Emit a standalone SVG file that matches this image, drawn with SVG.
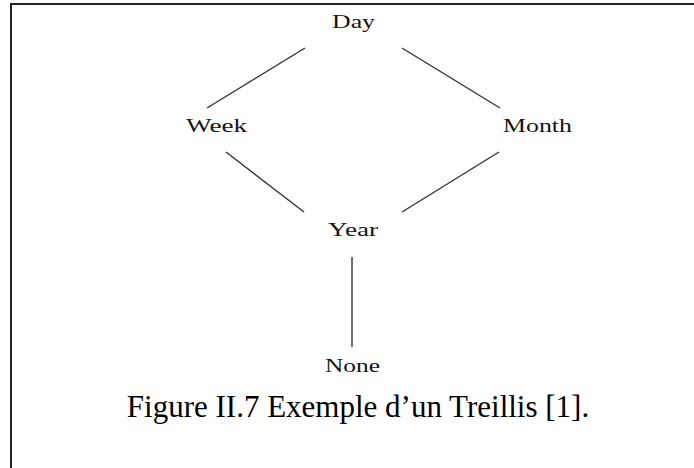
<svg xmlns="http://www.w3.org/2000/svg" width="694" height="468" viewBox="0 0 694 468">
  <style>
    .lbl { font-family: "Liberation Serif", "Times New Roman", serif; font-size: 19px; fill: #141414; text-anchor: middle; }
    .cap { font-family: "Liberation Serif", "Times New Roman", serif; font-size: 31px; fill: #000; text-anchor: middle; }
    .edge { stroke: #333; stroke-width: 1.4; fill: none; }
  </style>
  <rect width="694" height="468" fill="#fff"/>
  <!-- frame: open to the right and bottom -->
  <rect x="11" y="4" width="720" height="500" fill="none" stroke="#222" stroke-width="2"/>

  <g id="connectors">
    <line class="edge" x1="305" y1="48" x2="207" y2="108"/>
    <line class="edge" x1="402" y1="48" x2="500" y2="108"/>
    <line class="edge" x1="226" y1="152" x2="304" y2="212"/>
    <line class="edge" x1="499" y1="152" x2="402" y2="212"/>
    <line class="edge" x1="352" y1="257" x2="352" y2="347"/>
  </g>

  <g id="day"><text class="lbl" x="353.5" y="28" textLength="43" lengthAdjust="spacingAndGlyphs">Day</text></g>
  <g id="week"><text class="lbl" x="216.5" y="132" textLength="61" lengthAdjust="spacingAndGlyphs">Week</text></g>
  <g id="month"><text class="lbl" x="537.5" y="132" textLength="69" lengthAdjust="spacingAndGlyphs">Month</text></g>
  <g id="year"><text class="lbl" x="353" y="236" textLength="50" lengthAdjust="spacingAndGlyphs">Year</text></g>
  <g id="none"><text class="lbl" x="352.5" y="372" textLength="55" lengthAdjust="spacingAndGlyphs">None</text></g>

  <text class="cap" x="358" y="417">Figure II.7 Exemple d’un Treillis [1].</text>
</svg>
